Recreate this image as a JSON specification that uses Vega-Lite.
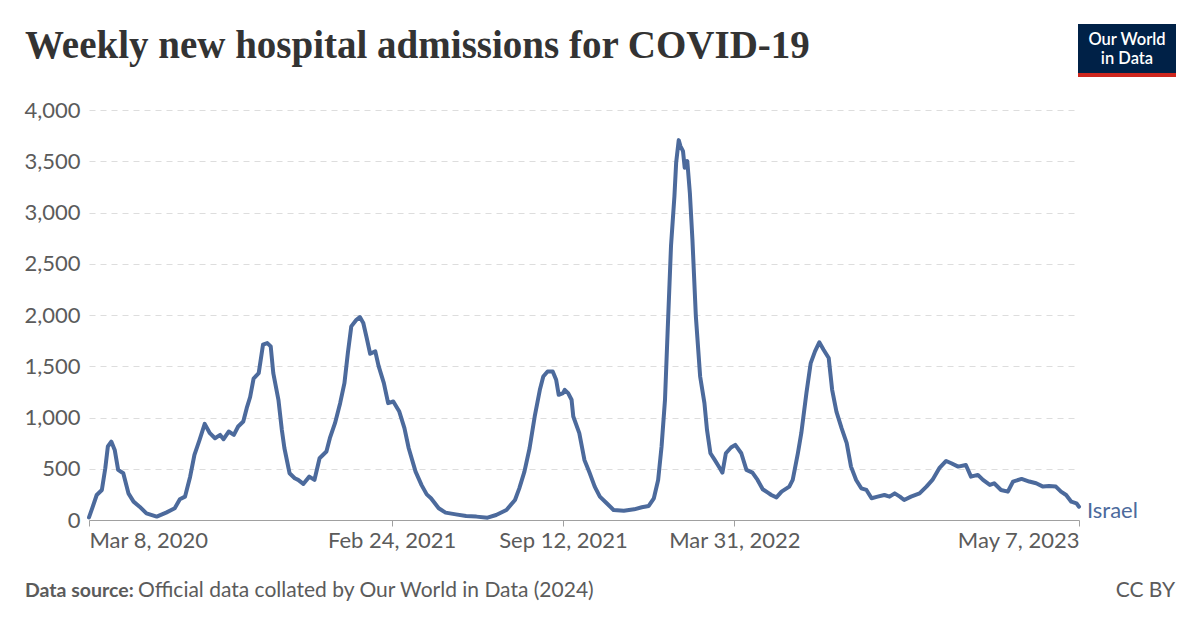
{
  "$schema": "https://vega.github.io/schema/vega-lite/v6.json",
  "width": 990,
  "height": 410,
  "autosize": {"type": "none"},
  "padding": {"left": 89, "top": 110, "right": 121, "bottom": 107},
  "background": "white",
  "config": {"view": {"stroke": null}, "font": "Lato"},
  "title": {
    "text": "Weekly new hospital admissions for COVID-19",
    "anchor": "start",
    "frame": "group",
    "dx": -64,
    "offset": -42,
    "font": "Liberation Serif",
    "fontSize": 39,
    "fontWeight": "bold",
    "color": "#333333"
  },
  "datasets": {
    "series": [
      {"date": "2020-03-08", "value": 25},
      {"date": "2020-03-12", "value": 120},
      {"date": "2020-03-17", "value": 244},
      {"date": "2020-03-23", "value": 293},
      {"date": "2020-03-27", "value": 505},
      {"date": "2020-03-30", "value": 717},
      {"date": "2020-04-03", "value": 765},
      {"date": "2020-04-07", "value": 684},
      {"date": "2020-04-11", "value": 489},
      {"date": "2020-04-17", "value": 456},
      {"date": "2020-04-23", "value": 260},
      {"date": "2020-04-29", "value": 179},
      {"date": "2020-05-06", "value": 130},
      {"date": "2020-05-14", "value": 65},
      {"date": "2020-05-26", "value": 33},
      {"date": "2020-06-06", "value": 72},
      {"date": "2020-06-16", "value": 114},
      {"date": "2020-06-22", "value": 202},
      {"date": "2020-06-28", "value": 228},
      {"date": "2020-07-04", "value": 423},
      {"date": "2020-07-09", "value": 635},
      {"date": "2020-07-15", "value": 782},
      {"date": "2020-07-21", "value": 938},
      {"date": "2020-07-27", "value": 847},
      {"date": "2020-08-02", "value": 798},
      {"date": "2020-08-08", "value": 830},
      {"date": "2020-08-12", "value": 788},
      {"date": "2020-08-18", "value": 863},
      {"date": "2020-08-24", "value": 830},
      {"date": "2020-08-29", "value": 912},
      {"date": "2020-09-04", "value": 961},
      {"date": "2020-09-08", "value": 1091},
      {"date": "2020-09-12", "value": 1200},
      {"date": "2020-09-16", "value": 1380},
      {"date": "2020-09-22", "value": 1433},
      {"date": "2020-09-27", "value": 1710},
      {"date": "2020-10-02", "value": 1726},
      {"date": "2020-10-06", "value": 1694},
      {"date": "2020-10-09", "value": 1433},
      {"date": "2020-10-15", "value": 1173},
      {"date": "2020-10-19", "value": 879},
      {"date": "2020-10-22", "value": 700},
      {"date": "2020-10-28", "value": 456},
      {"date": "2020-11-03", "value": 407},
      {"date": "2020-11-07", "value": 391},
      {"date": "2020-11-13", "value": 352},
      {"date": "2020-11-20", "value": 423},
      {"date": "2020-11-26", "value": 391},
      {"date": "2020-12-02", "value": 603},
      {"date": "2020-12-10", "value": 668},
      {"date": "2020-12-14", "value": 798},
      {"date": "2020-12-20", "value": 945},
      {"date": "2020-12-26", "value": 1140},
      {"date": "2020-12-31", "value": 1335},
      {"date": "2021-01-04", "value": 1629},
      {"date": "2021-01-08", "value": 1889},
      {"date": "2021-01-14", "value": 1954},
      {"date": "2021-01-18", "value": 1980},
      {"date": "2021-01-22", "value": 1922},
      {"date": "2021-01-26", "value": 1775},
      {"date": "2021-01-30", "value": 1622},
      {"date": "2021-02-05", "value": 1645},
      {"date": "2021-02-09", "value": 1498},
      {"date": "2021-02-15", "value": 1335},
      {"date": "2021-02-20", "value": 1140},
      {"date": "2021-02-26", "value": 1156},
      {"date": "2021-03-05", "value": 1058},
      {"date": "2021-03-11", "value": 896},
      {"date": "2021-03-16", "value": 700},
      {"date": "2021-03-24", "value": 472},
      {"date": "2021-03-31", "value": 340},
      {"date": "2021-04-06", "value": 250},
      {"date": "2021-04-11", "value": 212},
      {"date": "2021-04-20", "value": 114},
      {"date": "2021-04-28", "value": 72},
      {"date": "2021-05-10", "value": 55},
      {"date": "2021-05-22", "value": 39},
      {"date": "2021-06-03", "value": 33},
      {"date": "2021-06-16", "value": 23},
      {"date": "2021-06-26", "value": 49},
      {"date": "2021-07-08", "value": 98},
      {"date": "2021-07-18", "value": 195},
      {"date": "2021-07-23", "value": 309},
      {"date": "2021-07-29", "value": 472},
      {"date": "2021-08-04", "value": 700},
      {"date": "2021-08-10", "value": 1010},
      {"date": "2021-08-16", "value": 1270},
      {"date": "2021-08-20", "value": 1400},
      {"date": "2021-08-25", "value": 1449},
      {"date": "2021-08-31", "value": 1449},
      {"date": "2021-09-04", "value": 1368},
      {"date": "2021-09-07", "value": 1221},
      {"date": "2021-09-12", "value": 1238},
      {"date": "2021-09-14", "value": 1270},
      {"date": "2021-09-18", "value": 1238},
      {"date": "2021-09-22", "value": 1173},
      {"date": "2021-09-24", "value": 1010},
      {"date": "2021-10-01", "value": 847},
      {"date": "2021-10-07", "value": 586},
      {"date": "2021-10-13", "value": 460},
      {"date": "2021-10-19", "value": 326},
      {"date": "2021-10-25", "value": 228},
      {"date": "2021-11-02", "value": 163},
      {"date": "2021-11-10", "value": 98},
      {"date": "2021-11-22", "value": 91},
      {"date": "2021-12-04", "value": 104},
      {"date": "2021-12-13", "value": 124},
      {"date": "2021-12-21", "value": 137},
      {"date": "2021-12-27", "value": 212},
      {"date": "2022-01-01", "value": 391},
      {"date": "2022-01-05", "value": 717},
      {"date": "2022-01-09", "value": 1173},
      {"date": "2022-01-12", "value": 1824},
      {"date": "2022-01-16", "value": 2671},
      {"date": "2022-01-20", "value": 3159},
      {"date": "2022-01-22", "value": 3485},
      {"date": "2022-01-25", "value": 3706},
      {"date": "2022-01-27", "value": 3648},
      {"date": "2022-01-30", "value": 3599},
      {"date": "2022-02-01", "value": 3436},
      {"date": "2022-02-04", "value": 3501},
      {"date": "2022-02-07", "value": 3192},
      {"date": "2022-02-10", "value": 2736},
      {"date": "2022-02-14", "value": 1987},
      {"date": "2022-02-19", "value": 1400},
      {"date": "2022-02-24", "value": 1140},
      {"date": "2022-02-27", "value": 879},
      {"date": "2022-03-03", "value": 651},
      {"date": "2022-03-08", "value": 586},
      {"date": "2022-03-14", "value": 505},
      {"date": "2022-03-17", "value": 462},
      {"date": "2022-03-21", "value": 651},
      {"date": "2022-03-27", "value": 707},
      {"date": "2022-04-01", "value": 733},
      {"date": "2022-04-08", "value": 651},
      {"date": "2022-04-14", "value": 489},
      {"date": "2022-04-21", "value": 462},
      {"date": "2022-04-27", "value": 391},
      {"date": "2022-05-03", "value": 300},
      {"date": "2022-05-09", "value": 267},
      {"date": "2022-05-13", "value": 244},
      {"date": "2022-05-19", "value": 221},
      {"date": "2022-05-25", "value": 277},
      {"date": "2022-06-03", "value": 326},
      {"date": "2022-06-07", "value": 391},
      {"date": "2022-06-13", "value": 651},
      {"date": "2022-06-17", "value": 847},
      {"date": "2022-06-23", "value": 1238},
      {"date": "2022-06-28", "value": 1531},
      {"date": "2022-07-03", "value": 1645},
      {"date": "2022-07-08", "value": 1733},
      {"date": "2022-07-13", "value": 1661},
      {"date": "2022-07-19", "value": 1580},
      {"date": "2022-07-23", "value": 1270},
      {"date": "2022-07-28", "value": 1058},
      {"date": "2022-08-03", "value": 896},
      {"date": "2022-08-09", "value": 749},
      {"date": "2022-08-14", "value": 521},
      {"date": "2022-08-20", "value": 391},
      {"date": "2022-08-26", "value": 309},
      {"date": "2022-09-01", "value": 293},
      {"date": "2022-09-07", "value": 212},
      {"date": "2022-09-14", "value": 228},
      {"date": "2022-09-22", "value": 244},
      {"date": "2022-09-28", "value": 228},
      {"date": "2022-10-04", "value": 260},
      {"date": "2022-10-10", "value": 228},
      {"date": "2022-10-15", "value": 195},
      {"date": "2022-10-23", "value": 228},
      {"date": "2022-11-02", "value": 260},
      {"date": "2022-11-10", "value": 326},
      {"date": "2022-11-17", "value": 391},
      {"date": "2022-11-25", "value": 505},
      {"date": "2022-12-03", "value": 576},
      {"date": "2022-12-09", "value": 554},
      {"date": "2022-12-17", "value": 521},
      {"date": "2022-12-26", "value": 537},
      {"date": "2023-01-01", "value": 423},
      {"date": "2023-01-09", "value": 440},
      {"date": "2023-01-15", "value": 391},
      {"date": "2023-01-23", "value": 342},
      {"date": "2023-01-28", "value": 358},
      {"date": "2023-02-05", "value": 293},
      {"date": "2023-02-13", "value": 277},
      {"date": "2023-02-19", "value": 375},
      {"date": "2023-03-01", "value": 401},
      {"date": "2023-03-10", "value": 375},
      {"date": "2023-03-18", "value": 358},
      {"date": "2023-03-26", "value": 326},
      {"date": "2023-04-02", "value": 332},
      {"date": "2023-04-10", "value": 326},
      {"date": "2023-04-16", "value": 277},
      {"date": "2023-04-22", "value": 244},
      {"date": "2023-04-28", "value": 179},
      {"date": "2023-05-04", "value": 163},
      {"date": "2023-05-07", "value": 130}
    ]
  },
  "layer": [
    {
      "data": {"name": "series"},
      "mark": {"type": "line", "strokeWidth": 4, "color": "#4C6A9C", "strokeJoin": "round", "strokeCap": "round"},
      "encoding": {
        "x": {
          "field": "date",
          "type": "temporal",
          "scale": {"type": "utc", "domain": [1583625600000, 1683417600000]},
          "axis": {
            "title": null,
            "values": [1583625600000, 1614124800000, 1631404800000, 1648684800000, 1683417600000],
            "labelExpr": "utcFormat(datum.value, '%b %-d, %Y')",
            "labelFlush": true,
            "labelOverlap": false,
            "grid": false,
            "domainColor": "#a0a0a0",
            "tickColor": "#a0a0a0",
            "tickSize": 6,
            "labelPadding": 4,
            "labelFont": "Lato",
            "labelFontSize": 22,
            "labelColor": "#5b5b5b"
          }
        },
        "y": {
          "field": "value",
          "type": "quantitative",
          "scale": {"domain": [0, 4000], "nice": false},
          "axis": {
            "title": null,
            "values": [0, 500, 1000, 1500, 2000, 2500, 3000, 3500, 4000],
            "format": ",.0f",
            "domain": false,
            "ticks": false,
            "labelPadding": 9,
            "labelFont": "Lato",
            "labelFontSize": 22,
            "labelColor": "#5b5b5b",
            "gridColor": "#dddddd",
            "gridDash": [6, 5],
            "gridWidth": 1
          }
        }
      }
    },
    {
      "data": {"name": "series"},
      "transform": [{"filter": {"field": "date", "equal": {"year": 2023, "month": 5, "date": 7, "utc": true}}}],
      "mark": {"type": "text", "align": "left", "baseline": "middle", "dx": 8, "dy": 4, "font": "Lato", "fontSize": 22, "color": "#4C6A9C"},
      "encoding": {
        "x": {"field": "date", "type": "temporal"},
        "y": {"field": "value", "type": "quantitative"},
        "text": {"value": "Israel"}
      }
    },
    {
      "data": {"values": [{}]},
      "mark": {"type": "text", "align": "left", "baseline": "middle", "font": "Lato", "fontSize": 19.5, "fontWeight": "bold", "color": "#5b5b5b"},
      "encoding": {"x": {"value": -64}, "y": {"value": 481}, "text": {"value": "Data source:"}}
    },
    {
      "data": {"values": [{}]},
      "mark": {"type": "text", "align": "left", "baseline": "middle", "font": "Lato", "fontSize": 21, "color": "#5b5b5b"},
      "encoding": {"x": {"value": 49}, "y": {"value": 481}, "text": {"value": "Official data collated by Our World in Data (2024)"}}
    },
    {
      "data": {"values": [{}]},
      "mark": {"type": "text", "align": "right", "baseline": "middle", "font": "Lato", "fontSize": 21, "color": "#5b5b5b"},
      "encoding": {"x": {"value": 1086}, "y": {"value": 481}, "text": {"value": "CC BY"}}
    },
    {
      "data": {"values": [{}]},
      "mark": {"type": "rect", "color": "#002147"},
      "encoding": {"x": {"value": 989}, "x2": {"value": 1087}, "y": {"value": -86}, "y2": {"value": -37}}
    },
    {
      "data": {"values": [{}]},
      "mark": {"type": "rect", "color": "#ce261e"},
      "encoding": {"x": {"value": 989}, "x2": {"value": 1087}, "y": {"value": -37}, "y2": {"value": -33}}
    },
    {
      "data": {"values": [{}]},
      "mark": {"type": "text", "align": "center", "baseline": "middle", "font": "Lato", "fontSize": 16.5, "fontWeight": 600, "lineHeight": 19, "color": "white"},
      "encoding": {"x": {"value": 1038}, "y": {"value": -70}, "text": {"value": ["Our World", "in Data"]}}
    }
  ]
}
